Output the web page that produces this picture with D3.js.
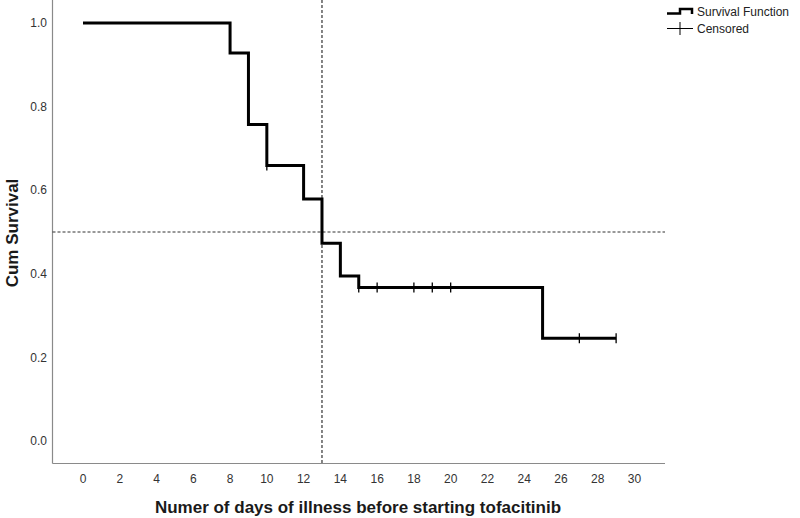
<!DOCTYPE html>
<html><head><meta charset="utf-8">
<script src="https://cdn.jsdelivr.net/npm/d3@7"></script>
<style>body{margin:0;background:#fff}svg{display:block}</style>
</head><body>
<script>
const times = [0, 8, 9, 10, 12, 13, 14, 15, 25, 29];
const survival = [1.0, 0.928, 0.757, 0.659, 0.579, 0.473, 0.395, 0.367, 0.246, 0.246];
const censoredTimes = [10, 15, 16, 18, 19, 20, 27, 29];
const censoredValues = [0.659, 0.367, 0.367, 0.367, 0.367, 0.367, 0.246, 0.246];
const xTicks = [0,2,4,6,8,10,12,14,16,18,20,22,24,26,28,30];
const yTicks = [0.0,0.2,0.4,0.6,0.8,1.0];
const medianTime = 13, medianValue = 0.5;
const legendLabels = ["Survival Function", "Censored"];

(function(){
const W = 800, H = 518;
const svg = d3.select("body").append("svg").attr("width", W).attr("height", H);
const x = d3.scaleLinear().domain([0, 30]).range([83, 634.5]);
const y = d3.scaleLinear().domain([0, 1]).range([441, 23]);
const pLeft = 52.5, pRight = 665, pBottom = 463.5, pTop = 0;
const font = "'Liberation Sans', Arial, sans-serif";

// axes lines
svg.append("line").attr("x1", pLeft).attr("x2", pLeft).attr("y1", pTop).attr("y2", pBottom).attr("stroke", "#8a8a8a").attr("stroke-width", 1.2);
svg.append("line").attr("x1", pLeft).attr("x2", pRight).attr("y1", pBottom).attr("y2", pBottom).attr("stroke", "#8a8a8a").attr("stroke-width", 1.2);

// y tick labels
svg.append("g").selectAll("text").data(yTicks).join("text")
  .attr("x", 47).attr("y", d => y(d)).attr("dy", "0.35em").attr("text-anchor", "end")
  .attr("font-family", font).attr("font-size", 12).attr("fill", "#333")
  .text(d => d3.format(".1f")(d));
// x tick labels
svg.append("g").selectAll("text").data(xTicks).join("text")
  .attr("x", d => x(d)).attr("y", 479).attr("dy", "0.35em").attr("text-anchor", "middle")
  .attr("font-family", font).attr("font-size", 12).attr("fill", "#333")
  .text(d => d);

// titles
svg.append("text").attr("x", 358).attr("y", 507).attr("dy", "0.35em").attr("text-anchor", "middle")
  .attr("font-family", font).attr("font-size", 17).attr("font-weight", "bold").attr("fill", "#1a1a1a")
  .text("Numer of days of illness before starting tofacitinib");
svg.append("text").attr("transform", `translate(12,233) rotate(-90)`).attr("dy", "0.35em").attr("text-anchor", "middle")
  .attr("font-family", font).attr("font-size", 17).attr("font-weight", "bold").attr("fill", "#1a1a1a")
  .text("Cum Survival");

// reference dashed lines
svg.append("line").attr("x1", pLeft).attr("x2", pRight).attr("y1", y(medianValue)).attr("y2", y(medianValue))
  .attr("stroke", "#333").attr("stroke-width", 1.2).attr("stroke-dasharray", "3,2");
svg.append("line").attr("x1", x(medianTime)).attr("x2", x(medianTime)).attr("y1", pTop).attr("y2", pBottom)
  .attr("stroke", "#333").attr("stroke-width", 1.2).attr("stroke-dasharray", "3,2");

// survival step line
const pts = times.map((t, i) => [t, survival[i]]);
const line = d3.line().x(d => x(d[0])).y(d => y(d[1])).curve(d3.curveStepAfter);
svg.append("path").attr("d", line(pts)).attr("fill", "none").attr("stroke", "#000").attr("stroke-width", 3).attr("stroke-linejoin", "miter");

// censored marks
svg.append("g").selectAll("line").data(censoredTimes.map((t, i) => [t, censoredValues[i]])).join("line")
  .attr("x1", d => x(d[0])).attr("x2", d => x(d[0]))
  .attr("y1", d => y(d[1]) - 5).attr("y2", d => y(d[1]) + 5)
  .attr("stroke", "#000").attr("stroke-width", 1.3);

// legend
const lg = svg.append("g");
lg.append("path").attr("d", "M667,13.5 H680 V9 H692 V14").attr("fill", "none").attr("stroke", "#000").attr("stroke-width", 2.5);
lg.append("line").attr("x1", 667).attr("x2", 693).attr("y1", 28.5).attr("y2", 28.5).attr("stroke", "#000").attr("stroke-width", 1);
lg.append("line").attr("x1", 680).attr("x2", 680).attr("y1", 22).attr("y2", 35).attr("stroke", "#000").attr("stroke-width", 1);
lg.selectAll("text").data(legendLabels).join("text")
  .attr("x", 697).attr("y", (d, i) => 12 + i * 16.5).attr("dy", "0.35em")
  .attr("font-family", font).attr("font-size", 12).attr("fill", "#222")
  .text(d => d);
})();
</script>
</body></html>
